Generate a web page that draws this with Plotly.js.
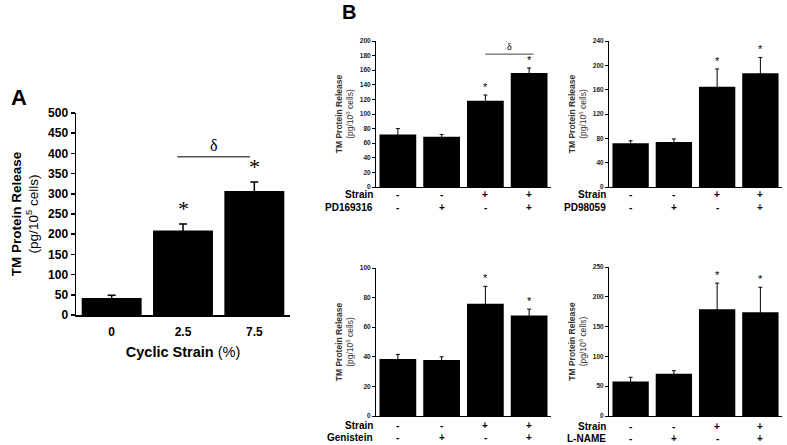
<!DOCTYPE html>
<html><head><meta charset="utf-8">
<script src="https://cdn.plot.ly/plotly-3.0.1.min.js"></script>
<style>html,body{margin:0;padding:0;background:#fff}</style>
</head><body><div id="chart" style="width:787px;height:445px"></div>
<script>
// Panel A data
const catsA = ['0', '2.5', '7.5'];
const valsA = [42, 209, 307];
const errA = [7, 16, 22];
const starA = [false, true, true];
const sigA = {from: 1, to: 2, level: 392};

// Panel B data
const strainRow = ['-', '-', '+', '+'];
const inhibRow = ['-', '+', '-', '+'];
const inhibNames = ['PD169316', 'PD98059', 'Genistein', 'L-NAME'];
const valsB1 = [72, 69, 118, 156];
const errB1 = [8, 3, 8, 7];
const valsB2 = [72, 74, 165, 187];
const errB2 = [4, 5, 29, 26];
const valsB3 = [38.5, 37.8, 75.8, 67.9];
const errB3 = [3.1, 2.2, 11.8, 4.3];
const valsB4 = [58, 71, 179, 174];
const errB4 = [7, 5, 44, 42];
const starB = [false, false, true, true];
const sigB1 = {from: 2, to: 3, level: 182};
const yMaxB = [200, 240, 100, 250];
const yDtickB = [20, 40, 20, 50];

const W = 787, H = 445;
const px = v => v / W;
const py = v => 1 - v / H;
const FONT = 'Liberation Sans, Arial, sans-serif';
const BLACK = '#000000';

const data = [];
const annotations = [];
const shapes = [];
const layout = {
  width: W, height: H, margin: {l: 0, r: 0, t: 0, b: 0},
  paper_bgcolor: '#fff', plot_bgcolor: '#fff', showlegend: false,
  font: {family: FONT, color: BLACK}, bargap: 0.16
};

function ann(o) {
  o.showarrow = false;
  if (!o.xanchor) o.xanchor = 'center';
  if (!o.yanchor) o.yanchor = 'middle';
  o.font = Object.assign({family: FONT, color: BLACK}, o.font || {});
  annotations.push(o);
}

function addBar(idx, cats, vals, errs, errW, capW) {
  const s = idx === 1 ? '' : String(idx);
  data.push({
    type: 'bar', x: cats, y: vals, xaxis: 'x' + s, yaxis: 'y' + s,
    marker: {color: BLACK, line: {width: 0}},
    error_y: {type: 'data', array: errs, visible: true, color: BLACK, thickness: errW, width: capW},
    hoverinfo: 'skip'
  });
}

// Panel A
addBar(1, catsA, valsA, errA, 1.5, 4);
layout.xaxis = {domain: [px(76), px(290)], anchor: 'y', type: 'category', range: [-0.5, 2.5],
  showline: true, linecolor: BLACK, linewidth: 1.5, ticks: '', showgrid: false, zeroline: false,
  ticklabelstandoff: 5,
  tickfont: {size: 12, family: FONT, weight: 'bold', color: BLACK},
  title: {text: '<b>Cyclic Strain</b> (%)', font: {size: 14.5, family: FONT, color: BLACK}, standoff: 9}};
layout.yaxis = {domain: [py(315), py(113)], anchor: 'x', range: [0, 500], dtick: 50,
  showline: true, linecolor: BLACK, linewidth: 1.5, ticks: 'outside', ticklen: 4, tickwidth: 1.5,
  tickcolor: BLACK, showgrid: false, zeroline: false,
  tickfont: {size: 12, family: FONT, weight: 'bold', color: BLACK},
  title: {text: '<b>TM Protein Release</b><br>(pg/10<sup>5</sup> cells)', font: {size: 13.5, family: FONT, color: BLACK}, standoff: 6}};
catsA.forEach((c, i) => {
  if (starA[i]) ann({x: i, y: valsA[i] + errA[i], xref: 'x', yref: 'y', text: '*',
    yanchor: 'bottom', yshift: 1, font: {size: 22, family: 'Liberation Serif, serif'}});
});
shapes.push({type: 'line', xref: 'x', yref: 'y', x0: sigA.from - 0.08, x1: sigA.to - 0.06,
  y0: sigA.level, y1: sigA.level, line: {color: '#555', width: 1.5}});
ann({x: (sigA.from + sigA.to) / 2 - 0.07, y: sigA.level, xref: 'x', yref: 'y', text: 'δ',
  yanchor: 'bottom', yshift: 1, font: {size: 16, family: 'Liberation Serif, serif'}});
ann({x: px(9), y: py(97), xref: 'paper', yref: 'paper', text: '<b>A</b>',
  xanchor: 'left', font: {size: 22}});
ann({x: px(340), y: py(12), xref: 'paper', yref: 'paper', text: '<b>B</b>',
  xanchor: 'left', font: {size: 20}});

// Panel B
const boxes = [
  {x0: 376, x1: 551, y0: 41, y1: 187, rowY: [195, 207]},
  {x0: 609, x1: 782, y0: 41, y1: 187, rowY: [195, 207]},
  {x0: 376, x1: 551, y0: 268, y1: 416, rowY: [425, 437]},
  {x0: 609, x1: 782, y0: 267, y1: 416, rowY: [426, 438]}
];
const valsB = [valsB1, valsB2, valsB3, valsB4];
const errB = [errB1, errB2, errB3, errB4];
const catsB = [0, 1, 2, 3];
boxes.forEach((b, k) => {
  const idx = k + 2;
  addBar(idx, catsB, valsB[k], errB[k], 1, 2);
  layout['xaxis' + idx] = {domain: [px(b.x0), px(b.x1)], anchor: 'y' + idx, range: [-0.5, 3.5],
    showline: true, linecolor: BLACK, linewidth: 1, showticklabels: false, ticks: '',
    showgrid: false, zeroline: false};
  layout['yaxis' + idx] = {domain: [py(b.y1), py(b.y0)], anchor: 'x' + idx, range: [0, yMaxB[k]],
    dtick: yDtickB[k], showline: true, linecolor: BLACK, linewidth: 1, ticks: 'outside', ticklen: 3,
    tickcolor: BLACK, showgrid: false, zeroline: false,
    tickfont: {size: 6.5, family: FONT, weight: 'bold', color: '#222222'},
    title: {text: '<b>TM Protein Release</b><br>(pg/10<sup>6</sup> cells)', font: {size: 8.5, family: FONT, color: '#333333'}, standoff: 4}};
  const xr = 'x' + idx, yr = 'y' + idx;
  catsB.forEach(i => {
    if (starB[i]) ann({x: i, y: valsB[k][i] + errB[k][i], xref: xr, yref: yr, text: '*',
      yanchor: 'bottom', yshift: 0, font: {size: 11}});
    ann({x: i, y: py(b.rowY[0]), xref: xr, yref: 'paper', text: '<b>' + strainRow[i] + '</b>', font: {size: 10}});
    ann({x: i, y: py(b.rowY[1]), xref: xr, yref: 'paper', text: '<b>' + inhibRow[i] + '</b>', font: {size: 10}});
  });
  ann({x: px(b.x0 - 1), y: py(b.rowY[0]), xref: 'paper', yref: 'paper', text: '<b>Strain</b>',
    xanchor: 'right', font: {size: 10}});
  ann({x: px(b.x0 - 1), y: py(b.rowY[1]), xref: 'paper', yref: 'paper', text: '<b>' + inhibNames[k] + '</b>',
    xanchor: 'right', font: {size: 10}});
});
shapes.push({type: 'line', xref: 'x2', yref: 'y2', x0: sigB1.from, x1: sigB1.to + 0.1,
  y0: sigB1.level, y1: sigB1.level, line: {color: '#444', width: 1}});
ann({x: (sigB1.from + sigB1.to) / 2 + 0.05, y: sigB1.level, xref: 'x2', yref: 'y2', text: 'δ',
  yanchor: 'bottom', yshift: 0, font: {size: 10, family: 'Liberation Serif, serif'}});

layout.annotations = annotations;
layout.shapes = shapes;
Plotly.newPlot('chart', data, layout, {displayModeBar: false, staticPlot: true});
</script></body></html>
